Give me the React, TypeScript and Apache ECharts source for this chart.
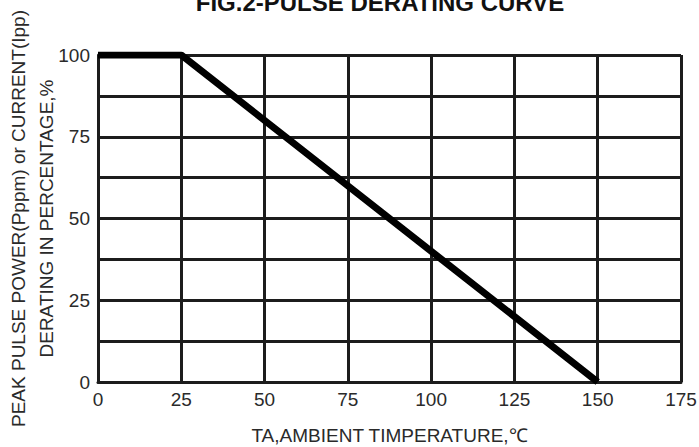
import React, { useEffect, useRef } from "react";
import * as echarts from "echarts";

const temperature = [0, 25, 150];
const derating = [100, 100, 0];
const xTicks = [0, 25, 50, 75, 100, 125, 150, 175];
const yTicks = [0, 25, 50, 75, 100];

const FONT = "'Liberation Sans', Arial, sans-serif";
const GRID_COLOR = "#1c1c1c";
const TEXT_COLOR = "#2a2a2a";

export default function App() {
  const ref = useRef<HTMLDivElement>(null);
  useEffect(() => {
    if (!ref.current) return;
    const chart = echarts.init(ref.current, null, { renderer: "svg" });
    chart.setOption({
      animation: false,
      backgroundColor: "#ffffff",
      title: {
        text: "FIG.2-PULSE DERATING CURVE",
        left: 375,
        textAlign: "center",
        top: -15,
        textStyle: { fontFamily: FONT, fontWeight: "bold", fontSize: 24, color: "#111" },
      },
      grid: { left: 98, right: 18, top: 55, bottom: 65, containLabel: false, outerBoundsMode: "none" },
      xAxis: {
        type: "value",
        min: xTicks[0],
        max: xTicks[xTicks.length - 1],
        interval: 25,
        name: "TA,AMBIENT TIMPERATURE,\u2103",
        nameLocation: "middle",
        nameGap: 44,
        nameMoveOverlap: false,
        nameTextStyle: { fontFamily: FONT, fontSize: 19, color: TEXT_COLOR },
        axisLine: { show: true, lineStyle: { color: GRID_COLOR, width: 3 } },
        axisTick: { show: false },
        axisLabel: { fontFamily: FONT, fontSize: 19, color: TEXT_COLOR, margin: 8 },
        splitLine: { show: true, lineStyle: { color: GRID_COLOR, width: 3 } },
      },
      yAxis: {
        type: "value",
        min: yTicks[0],
        max: yTicks[yTicks.length - 1],
        interval: 25,
        name: "PEAK PULSE POWER(Pppm) or CURRENT(Ipp)\nDERATING IN PERCENTAGE,%",
        nameLocation: "middle",
        nameGap: 38,
        nameMoveOverlap: false,
        nameTextStyle: { fontFamily: FONT, fontSize: 19, color: TEXT_COLOR, lineHeight: 28 },
        axisLine: { show: true, lineStyle: { color: GRID_COLOR, width: 3 } },
        axisTick: { show: false },
        axisLabel: { fontFamily: FONT, fontSize: 19, color: TEXT_COLOR, margin: 8, padding: [6, 0, 0, 0] },
        splitLine: { show: true, lineStyle: { color: GRID_COLOR, width: 3 } },
        minorTick: { show: false, splitNumber: 2 },
        minorSplitLine: { show: true, lineStyle: { color: GRID_COLOR, width: 3 } },
      },
      series: [
        {
          type: "line",
          data: temperature.map((t, i) => [t, derating[i]]),
          symbol: "none",
          lineStyle: { color: "#000", width: 7 },
          z: 5,
        },
      ],
    });
    return () => chart.dispose();
  }, []);
  return <div ref={ref} style={{ width: 699, height: 447, position: "absolute", left: 0, top: 0 }} />;
}
